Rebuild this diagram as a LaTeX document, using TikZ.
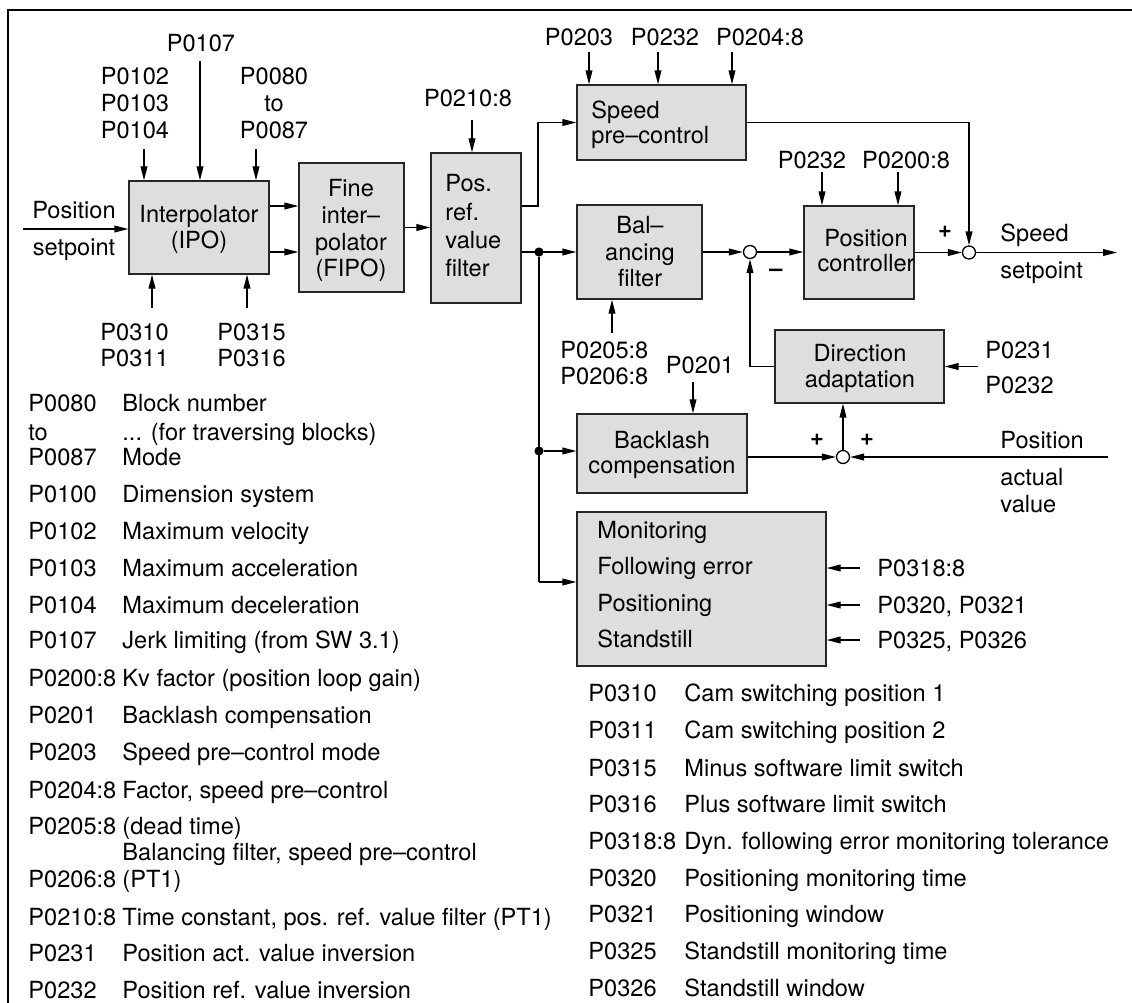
\documentclass[tikz,border=0pt]{standalone}
\usepackage{fontspec}
\setmainfont{TeX Gyre Heros}
\usetikzlibrary{arrows.meta,fit}
\begin{document}
\begin{tikzpicture}[x=0.5pt,y=-0.5pt,
  font=\fontsize{11.8}{13.3}\selectfont,
  lw/.style={line width=0.65pt},
  blk/.style={draw=black!85,line width=0.65pt,fill=black!13,inner sep=0pt},
  txt/.style={inner sep=0pt,text height=8.5pt,text depth=0pt},
  txtw/.style={txt,anchor=west},
  arr/.style={lw,-{Triangle[length=7pt,width=3.4pt]}},
  sumj/.style={circle,draw,lw,fill=white,inner sep=0pt,minimum size=6.5pt},
  dotj/.style={circle,fill=black,inner sep=0pt,minimum size=4.6pt},
  sgn/.style={inner sep=0pt,font=\fontsize{11.8}{13.3}\selectfont\bfseries}
]
\useasboundingbox (0,0) rectangle (1132,1003);
% frame
\draw[line width=1pt] (1132,10) -- (8,10) -- (8,1003);

% ---------- blocks ----------
\node[blk,fit={(129,181)(269,274)}] (ipo) {};
\node[txt] (ipo1) at (199,214) {Interpolator};
\node[txt] (ipo2) at (199,240) {(IPO)};

\node[blk,fit={(299,163)(404,292)}] (fipo) {};
\node[txt] (fipo1) at (351,188) {Fine};
\node[txt] (fipo2) at (351,215) {inter–};
\node[txt] (fipo3) at (351,242) {polator};
\node[txt] (fipo4) at (351,268) {(FIPO)};

\node[blk,fit={(431,153)(521,303)}] (prf) {};
\node[txtw] (prf1) at (445,183) {Pos.};
\node[txtw] (prf2) at (445,212) {ref.};
\node[txtw] (prf3) at (445,240) {value};
\node[txtw] (prf4) at (445,268) {filter};

\node[blk,fit={(577,85)(746,160)}] (spc) {};
\node[txtw] (spc1) at (591,110) {Speed};
\node[txtw] (spc2) at (591,135) {pre–control};

\node[blk,fit={(577,205)(702,299)}] (bal) {};
\node[txt] (bal1) at (640,225) {Bal–};
\node[txt] (bal2) at (640,252) {ancing};
\node[txt] (bal3) at (640,278) {filter};

\node[blk,fit={(804,206)(914,299)}] (pc) {};
\node[txt] (pc1) at (866,238) {Position};
\node[txt] (pc2) at (866,263) {controller};

\node[blk,fit={(775,330)(944,403)}] (dir) {};
\node[txt] (dir1) at (860,353) {Direction};
\node[txt] (dir2) at (860,379) {adaptation};

\node[blk,fit={(577,414)(747,493)}] (bl) {};
\node[txt] (bl1) at (662,440) {Backlash};
\node[txt] (bl2) at (662,465) {compensation};

\node[blk,fit={(577,512)(826,666)}] (mon) {};
\node[txtw] (mon1) at (597,530) {Monitoring};
\node[txtw] (mon2) at (597,566) {Following error};
\node[txtw] (mon3) at (597,603) {Positioning};
\node[txtw] (mon4) at (597,639) {Standstill};

% junctions
\node[sumj] (s1) at (750,252) {};
\node[sumj] (s2) at (969,252.5) {};
\node[sumj] (s3) at (843,457) {};
\node[dotj] (d1) at (539,252) {};
\node[dotj] (d2) at (539,451) {};

% ---------- IPO inputs ----------
\node[txt] (lps1) at (74,210) {Position};
\node[txt] (lps2) at (74,247) {setpoint};
\coordinate (psin) at (23,229);
\draw[arr] (psin) -- (psin -| ipo.west);

\node[txt] (l107) at (201,43) {P0107};
\coordinate (a107) at (200,61);
\draw[arr] (a107) -- (a107 |- ipo.north);

\node[txt] (l102) at (135,76) {P0102};
\node[txt] (l103) at (135,103) {P0103};
\node[txt] (l104) at (135,130) {P0104};
\coordinate (a102) at (144,149);
\draw[arr] (a102) -- (a102 |- ipo.north);

\node[txt] (l080) at (274,76) {P0080};
\node[txt] (lto) at (274,103) {to};
\node[txt] (l087) at (274,130) {P0087};
\coordinate (a080) at (256,149);
\draw[arr] (a080) -- (a080 |- ipo.north);

\coordinate (a310) at (152,308);
\coordinate (a315) at (247,308);
\draw[arr] (a310) -- (a310 |- ipo.south);
\draw[arr] (a315) -- (a315 |- ipo.south);
\node[txtw] (l310) at (100,332) {P0310};
\node[txtw] (l311) at (100,358) {P0311};
\node[txtw] (l315) at (217,332) {P0315};
\node[txtw] (l316) at (217,358) {P0316};

% IPO -> FIPO -> filter
\coordinate (y206) at (0,206);
\draw[arr] (ipo.east |- y206) -- (fipo.west |- y206);
\draw[arr] (ipo.east |- d1) -- (fipo.west |- d1);
\draw[arr] (fipo.east) -- (fipo.east -| prf.west);

\node[txt] (l210) at (468,98) {P0210:8};
\coordinate (a210) at (472,120);
\draw[arr] (a210) -- (a210 |- prf.north);

% filter outputs
\coordinate (k1) at (538,206);
\draw[arr] (prf.east |- k1) -- (k1) |- (spc.west);
\draw[arr] (prf.east |- d1) -- (bal.west |- d1);
\coordinate (k2) at (539,582);
\draw[lw] (d1) -- (k2);
\draw[arr] (k2) -- (k2 -| mon.west);
\draw[arr] (d2) -- (d2 -| bl.west);

% speed pre-control
\node[txt] (l203) at (579,37) {P0203};
\node[txt] (l232a) at (665,37) {P0232};
\node[txt] (l204) at (760,37) {P0204:8};
\coordinate (a203) at (589,52);
\coordinate (a232a) at (658,52);
\coordinate (a204) at (732,52);
\draw[arr] (a203) -- (a203 |- spc.north);
\draw[arr] (a232a) -- (a232a |- spc.north);
\draw[arr] (a204) -- (a204 |- spc.north);
\draw[arr] (spc.east) -| (s2.north);

% balancing filter / position controller
\draw[arr] (bal.east) -- (s1.west);
\draw[arr] (s1.east) -- (pc.west |- s1);
\node[txt] (l232b) at (812,160) {P0232};
\node[txt] (l200) at (906,160) {P0200:8};
\coordinate (a232b) at (822,172);
\coordinate (a200) at (898,172);
\draw[arr] (a232b) -- (a232b |- pc.north);
\draw[arr] (a200) -- (a200 |- pc.north);
\draw[arr] (pc.east |- s2) -- (s2.west);
\coordinate (sout) at (1117,252.5);
\draw[arr] (s2.east) -- (sout);
\node[sgn] (plus2) at (945,232) {+};
\node[txtw] (lsp1) at (1000,233) {Speed};
\node[txtw] (lsp2) at (1000,270) {setpoint};

\node[txtw] (l205) at (560,350) {P0205:8};
\node[txtw] (l206) at (560,376) {P0206:8};
\coordinate (a205) at (612,333);
\draw[arr] (a205) -- (a205 |- bal.south);

% direction adaptation
\draw[arr] (dir.west) -| (s1.south);
\node[sgn] (minus1) at (776,273) {–};
\coordinate (a231) at (978,366.5);
\draw[arr] (a231) -- (dir.east);
\node[txtw] (l231) at (985,350) {P0231};
\node[txtw] (l232c) at (985,385) {P0232};

% backlash
\node[txt] (l201) at (700,365) {P0201};
\coordinate (a201) at (693,382);
\draw[arr] (a201) -- (a201 |- bl.north);
\draw[arr] (bl.east |- s3) -- (s3.west);
\draw[arr] (s3.north) -- (s3.north |- dir.south);
\coordinate (pav) at (1108,457);
\draw[arr] (pav) -- (s3.east);
\node[sgn] (plus3a) at (817,440) {+};
\node[sgn] (plus3b) at (867,440) {+};
\node[txtw] (lpa1) at (1000,440) {Position};
\node[txtw] (lpa2) at (1000,477) {actual};
\node[txtw] (lpa3) at (1000,504) {value};

% monitoring inputs
\coordinate (a318) at (860,568);
\coordinate (a320) at (860,605);
\coordinate (a325) at (860,640);
\draw[arr] (a318) -- (a318 -| mon.east);
\draw[arr] (a320) -- (a320 -| mon.east);
\draw[arr] (a325) -- (a325 -| mon.east);
\node[txtw] (l318) at (877,568) {P0318:8};
\node[txtw] (l320) at (877,605) {P0320, P0321};
\node[txtw] (l325) at (877,640) {P0325, P0326};

% ---------- legends ----------
\foreach \y/\c/\d [count=\i] in {
  403/{P0080}/{Block number},
  432/{to}/{{...} (for traversing blocks)},
  457/{P0087}/{Mode},
  494/{P0100}/{Dimension system},
  531/{P0102}/{Maximum velocity},
  568/{P0103}/{Maximum acceleration},
  605/{P0104}/{Maximum deceleration},
  640/{P0107}/{Jerk limiting (from SW 3.1)},
  678/{P0200:8}/{Kv factor (position loop gain)},
  715/{P0201}/{Backlash compensation},
  752/{P0203}/{Speed pre–control mode},
  790/{P0204:8}/{Factor, speed pre–control},
  826/{P0205:8}/{(dead time)},
  852/{}/{Balancing filter, speed pre–control},
  879/{P0206:8}/{(PT1)},
  917/{P0210:8}/{Time constant, pos. ref. value filter (PT1)},
  953/{P0231}/{Position act. value inversion},
  990/{P0232}/{Position ref. value inversion}}
{
  \node[txtw] (lc\i) at (28,\y) {\c};
  \node[txtw] (ld\i) at (122,\y) {\d};
}
\foreach \y/\c/\d [count=\i] in {
  693/{P0310}/{Cam switching position 1},
  730/{P0311}/{Cam switching position 2},
  768/{P0315}/{Minus software limit switch},
  804/{P0316}/{Plus software limit switch},
  841/{P0318:8}/{Dyn. following error monitoring tolerance},
  878/{P0320}/{Positioning monitoring time},
  914/{P0321}/{Positioning window},
  951/{P0325}/{Standstill monitoring time},
  988/{P0326}/{Standstill window}}
{
  \node[txtw] (rc\i) at (588,\y) {\c};
  \node[txtw] (rd\i) at (684,\y) {\d};
}
\end{tikzpicture}
\end{document}
